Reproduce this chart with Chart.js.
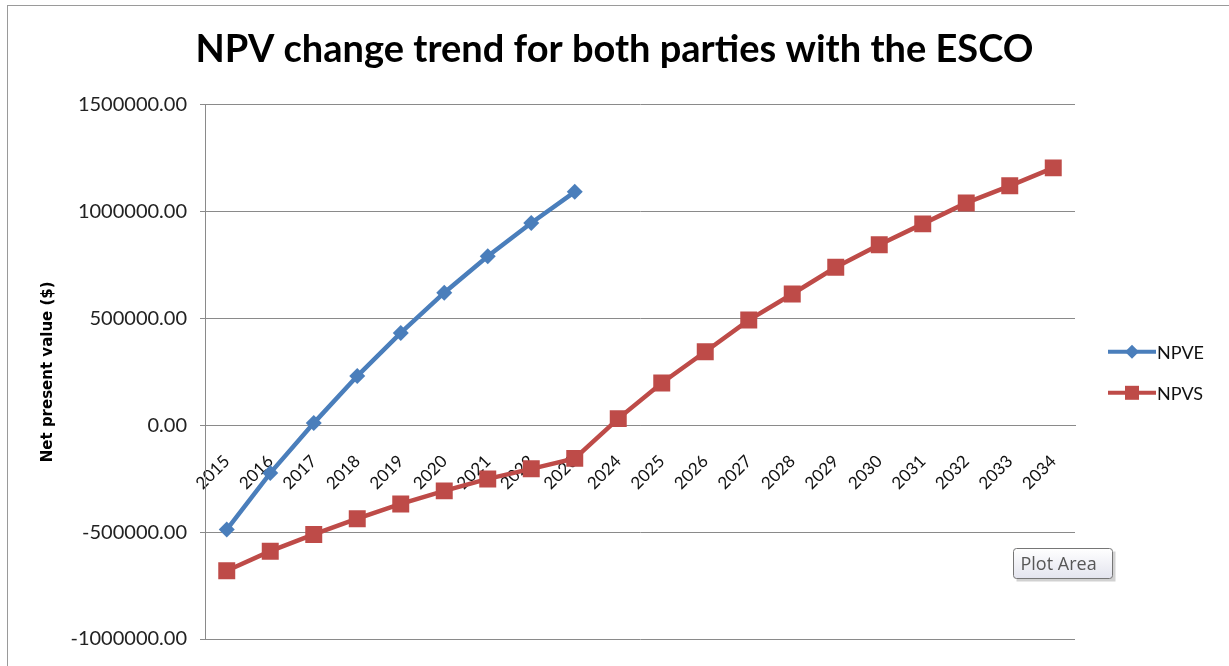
<!DOCTYPE html>
<html>
<head>
<meta charset="utf-8">
<title>NPV change trend</title>
<script src="https://cdn.jsdelivr.net/npm/chart.js@4.4.1/dist/chart.umd.min.js"></script>
<style>
  html, body { margin: 0; padding: 0; background: #fff; }
  #wrap { width: 1229px; height: 666px; position: relative; }
</style>
</head>
<body>
<div id="wrap"><canvas id="chart" width="1229" height="666"></canvas></div>
<script>
// years on the category axis
const years = ["2015", "2016", "2017", "2018", "2019", "2020", "2021", "2022", "2023", "2024",
  "2025", "2026", "2027", "2028", "2029", "2030", "2031", "2032", "2033", "2034"];

// NPV of the ESCO (stops at 2023)
const npve = [-488000, -224000, 10000, 230000, 432000, 620000, 791000, 946000, 1092000];

// NPV of the other party
const npvs = [-681000, -589000, -511000, -437000, -368000, -307000, -251000, -204000, -155000, 31000,
  198000, 344000, 492000, 614000, 739000, 844000, 942000, 1040000, 1120000, 1204000];

const yMin = -1000000;
const yMax = 1500000;
const yStep = 500000;

const BLUE = "#4a7ebb";
const RED = "#be4b48";
const GRID = "#8a8a8a";

// legend drawn the excel way: line with the marker in the middle
const excelLegend = {
  id: "excelLegend",
  afterDraw(chart) {
    const { ctx, chartArea } = chart;
    const x0 = chartArea.right + 33;
    const midY = (chartArea.top + chartArea.bottom) / 2;
    chart.data.datasets.forEach((ds, i) => {
      const y = midY - 20 + i * 41;
      ctx.save();
      ctx.strokeStyle = ds.borderColor;
      ctx.lineWidth = 4;
      ctx.beginPath();
      ctx.moveTo(x0, y);
      ctx.lineTo(x0 + 48, y);
      ctx.stroke();
      ctx.fillStyle = ds.backgroundColor;
      ctx.beginPath();
      if (ds.pointStyle === "rectRot") {
        ctx.moveTo(x0 + 24, y - 7);
        ctx.lineTo(x0 + 31, y);
        ctx.lineTo(x0 + 24, y + 7);
        ctx.lineTo(x0 + 17, y);
        ctx.closePath();
      } else {
        ctx.rect(x0 + 17, y - 7, 14, 14);
      }
      ctx.fill();
      ctx.fillStyle = "#111";
      ctx.font = "18px Lato";
      ctx.textBaseline = "middle";
      ctx.fillText(ds.label, x0 + 49, y + 1);
      ctx.restore();
    });
  }
};

// the frame of the chart object and the "Plot Area" hint box from the screenshot
const frameAndHint = {
  id: "frameAndHint",
  beforeDraw(chart) {
    const { ctx } = chart;
    ctx.save();
    ctx.strokeStyle = "#9a9a9a";
    ctx.lineWidth = 1;
    ctx.strokeRect(7.5, 5.5, chart.width, chart.height);
    ctx.restore();
  },
  afterDraw(chart) {
    const { ctx, chartArea } = chart;
    const bx = chartArea.right - 61.5;
    const by = chartArea.bottom - 90.5;
    const bw = 99, bh = 30;
    ctx.save();
    ctx.fillStyle = "rgba(0,0,0,0.18)";
    ctx.fillRect(bx + 3, by + 3, bw, bh);
    const g = ctx.createLinearGradient(0, by, 0, by + bh);
    g.addColorStop(0, "#ffffff");
    g.addColorStop(1, "#e3e4ee");
    ctx.fillStyle = g;
    ctx.strokeStyle = "#767676";
    ctx.beginPath();
    ctx.roundRect(bx, by, bw, bh, 3);
    ctx.fill();
    ctx.stroke();
    ctx.fillStyle = "#575757";
    ctx.font = "18px 'Open Sans'";
    ctx.textBaseline = "middle";
    ctx.fillText("Plot Area", bx + 7, by + bh / 2 + 1);
    ctx.restore();
  }
};

const ctx = document.getElementById("chart").getContext("2d");

const myChart = new Chart(ctx, {
  type: "line",
  data: {
    labels: years,
    datasets: [
      {
        label: "NPVE",
        data: npve,
        borderColor: BLUE,
        backgroundColor: BLUE,
        borderWidth: 4.5,
        pointStyle: "rectRot",
        pointRadius: 8,
        pointBorderWidth: 0,
        tension: 0
      },
      {
        label: "NPVS",
        data: npvs,
        borderColor: RED,
        backgroundColor: RED,
        borderWidth: 4.5,
        pointStyle: "rect",
        pointRadius: 12,
        pointBorderWidth: 0,
        tension: 0
      }
    ]
  },
  options: {
    responsive: false,
    animation: false,
    layout: {
      padding: { left: 0, right: 0, top: 0, bottom: 27 }
    },
    plugins: {
      legend: { display: false },
      tooltip: { enabled: false },
      title: {
        display: true,
        text: "NPV change trend for both parties with the ESCO",
        color: "#000",
        font: { family: "Lato", size: 38, weight: "bold" },
        padding: { top: 27, bottom: 32 }
      }
    },
    scales: {
      x: {
        type: "category",
        offset: true,
        position: { y: 0 },
        grid: { display: false, drawTicks: false },
        border: { display: true, color: GRID, width: 1 },
        ticks: {
          color: "#111",
          font: { family: "Lato", size: 17 },
          minRotation: 45,
          maxRotation: 45,
          autoSkip: false,
          padding: 26
        }
      },
      y: {
        min: yMin,
        max: yMax,
        afterFit(scale) { scale.width = 205; },
        grid: { color: GRID, lineWidth: 1, drawTicks: true, tickLength: 5, tickColor: GRID },
        border: { display: true, color: GRID, width: 1 },
        ticks: {
          stepSize: yStep,
          color: "#222",
          padding: 13,
          font: { family: "Lato", size: 20 },
          callback: v => Number(v).toFixed(2)
        },
        title: {
          display: true,
          text: "Net present value ($)",
          color: "#000",
          font: { family: "DejaVu Sans", size: 15, weight: "bold" },
          padding: { top: 39, bottom: 0 }
        }
      },
      // empty axis on the right keeps room for the legend
      yLegendSpace: {
        position: "right",
        display: true,
        grid: { display: false, drawTicks: false },
        border: { display: false },
        ticks: { display: false },
        afterFit(scale) { scale.width = 154; }
      }
    }
  },
  plugins: [excelLegend, frameAndHint]
});
</script>
</body>
</html>
